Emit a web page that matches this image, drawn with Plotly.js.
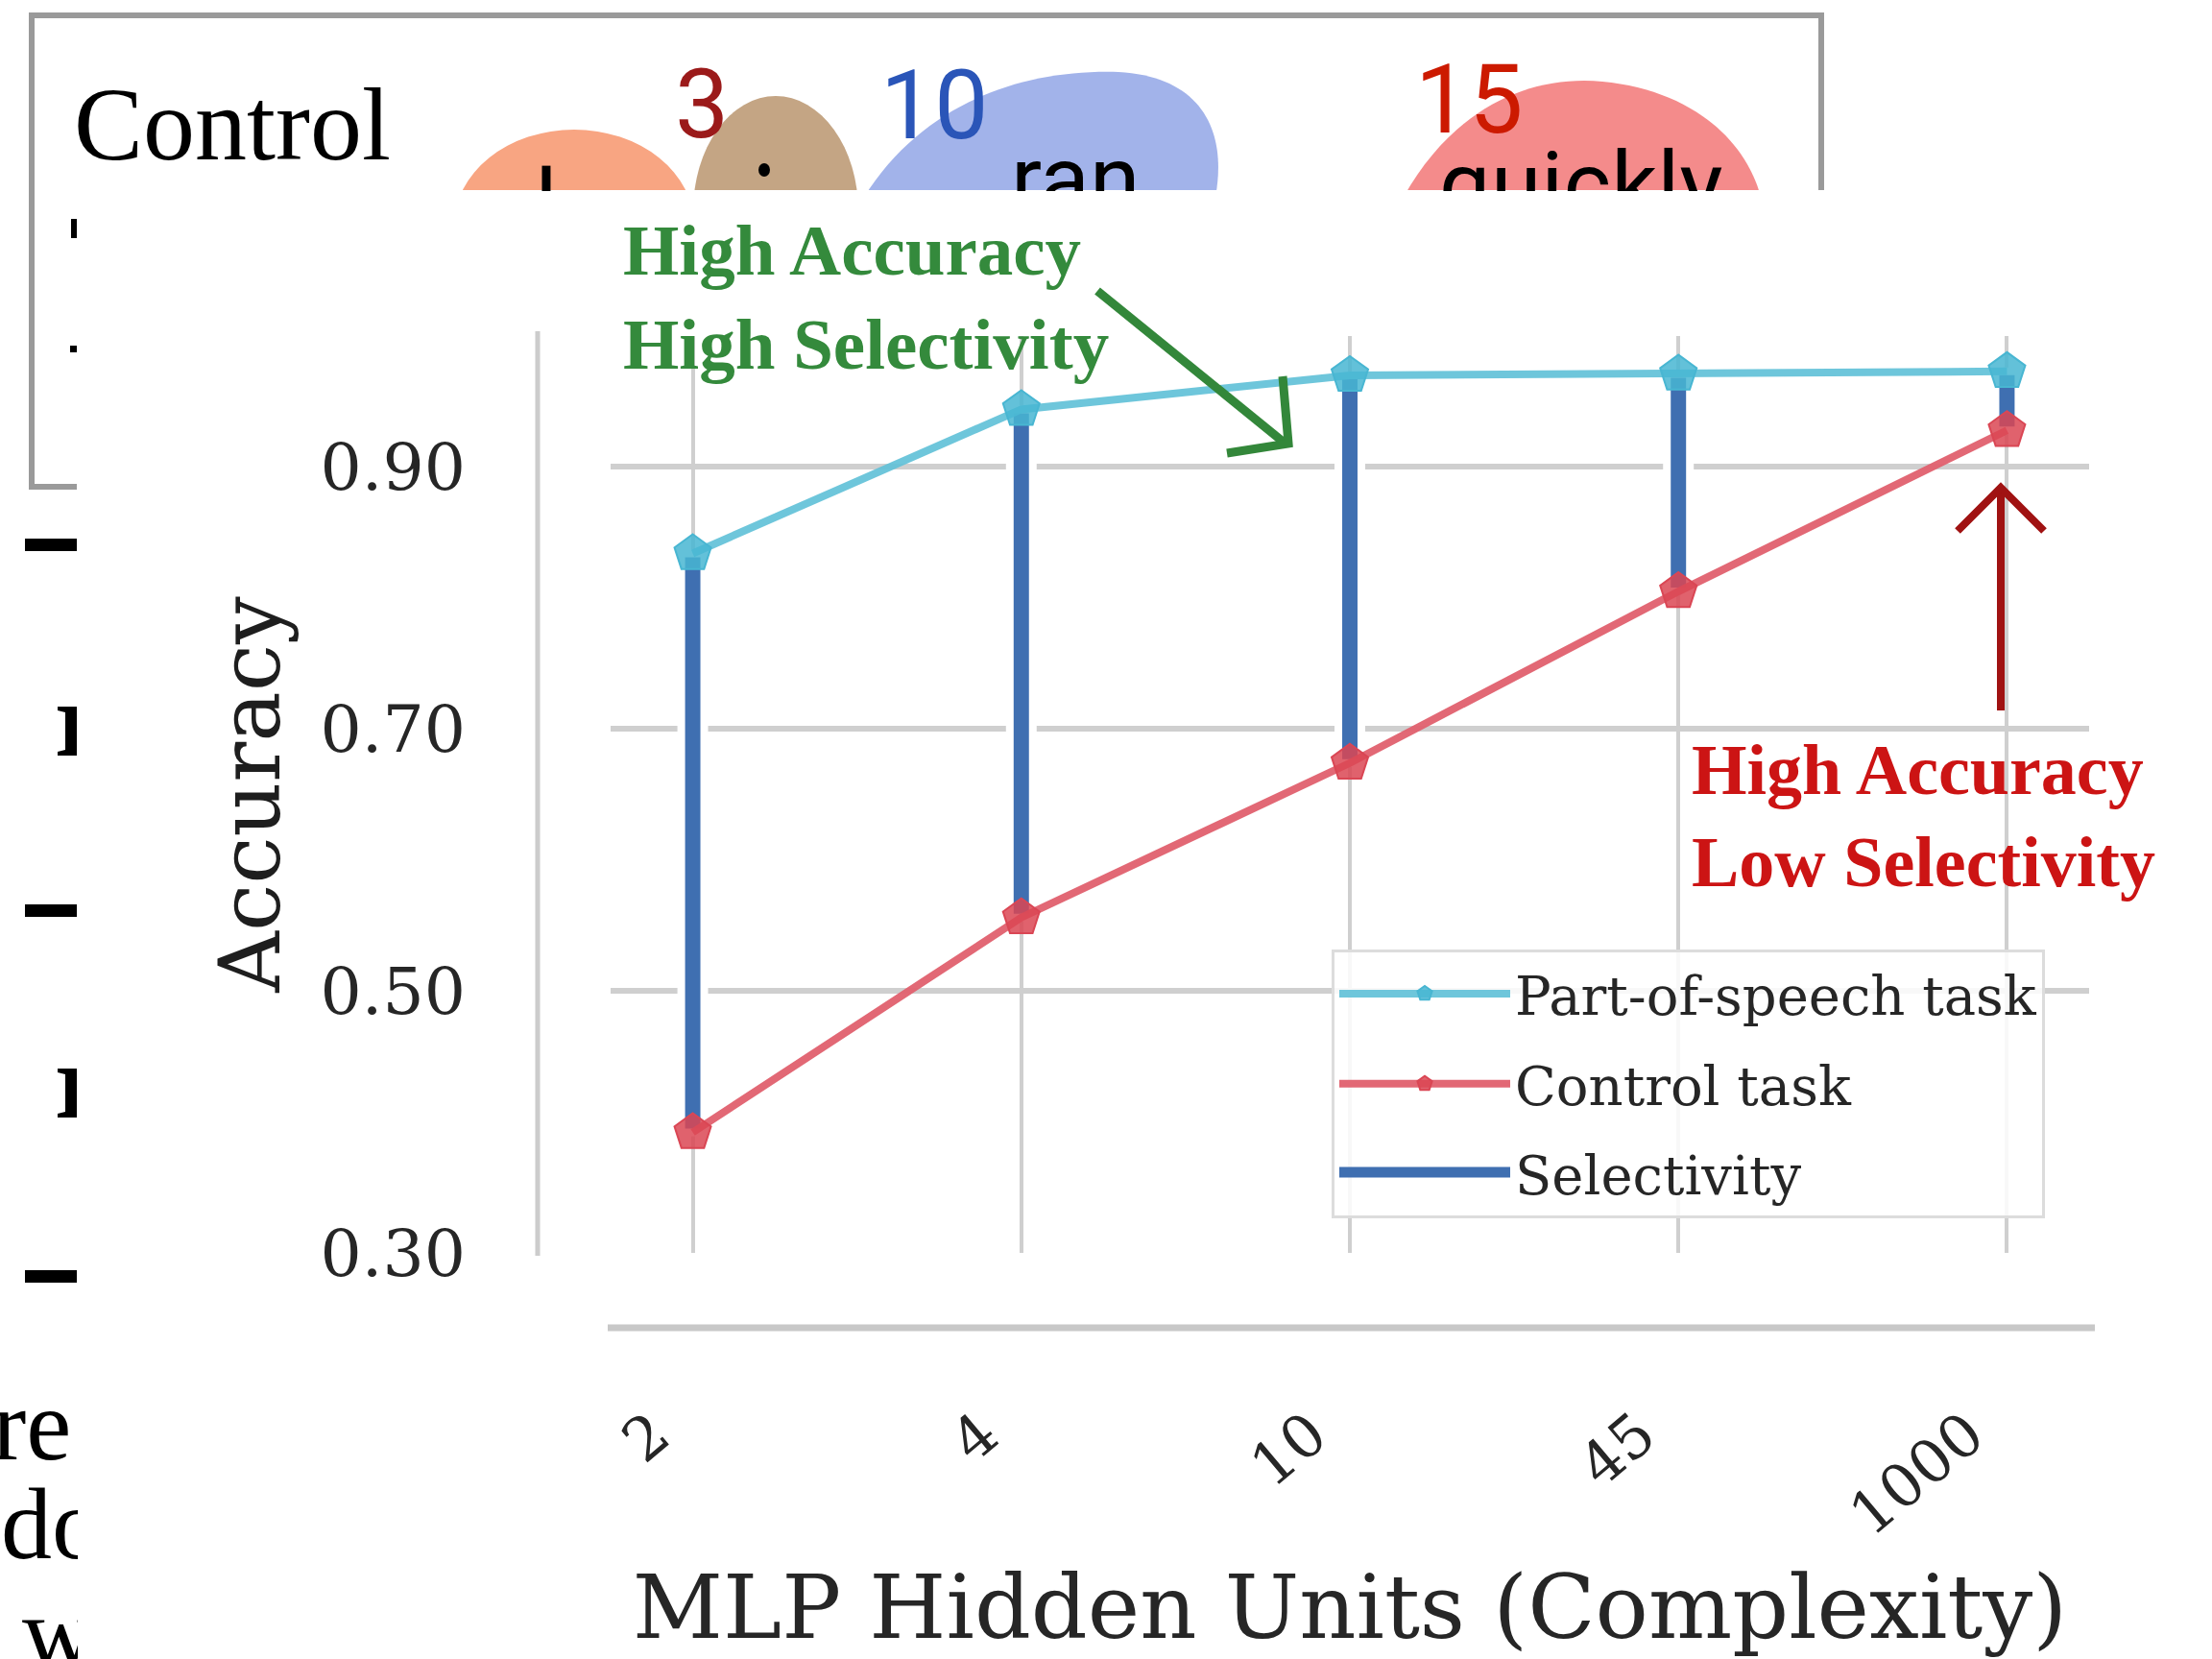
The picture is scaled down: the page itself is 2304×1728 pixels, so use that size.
<!DOCTYPE html>
<html><head><meta charset="utf-8">
<script src="https://cdn.plot.ly/plotly-3.0.1.min.js"></script>
<style>html,body{margin:0;padding:0;background:#fff}</style>
</head><body><div id="chart" style="width:2304px;height:1728px"></div>
<script>
// ---- data ----
const hiddenUnits = ['2', '4', '10', '45', '1000'];
const posAccuracy = [0.834, 0.944, 0.970, 0.971, 0.973];
const controlAccuracy = [0.392, 0.556, 0.674, 0.805, 0.928];
const yTickVals = [0.30, 0.50, 0.70, 0.90];
const yTickText = ['0.30', '0.50', '0.70', '0.90'];
const seriesNames = ['Part-of-speech task', 'Control task', 'Selectivity'];
const selectivity = posAccuracy.map((v, i) => v - controlAccuracy[i]);

// ---- page geometry (pixels) ----
const W = 2304, H = 1728, L = 636, R = 2176, T = 350, B = 1305;
const px = x => (x - L) / (R - L);
const py = y => (B - y) / (B - T);

const serif = 'DejaVu Serif';
const selColor = '#3f6fb1';

const traces = [
  {
    type: 'bar', name: seriesNames[2], x: hiddenUnits, y: selectivity, base: controlAccuracy,
    width: 0.07, marker: {color: selColor, line: {color: '#ffffff', width: 8}},
    showlegend: false, legendgroup: 'c', hoverinfo: 'skip'
  },
  {
    type: 'scatter', mode: 'lines+markers', name: seriesNames[0], x: hiddenUnits, y: posAccuracy,
    line: {color: 'rgba(98,193,216,0.92)', width: 8},
    marker: {symbol: 'pentagon', size: 40, color: 'rgba(72,182,210,0.85)', line: {color: 'rgba(72,182,210,1)', width: 2}},
    legendgroup: 'a', legendrank: 1
  },
  {
    type: 'scatter', mode: 'lines+markers', name: seriesNames[1], x: hiddenUnits, y: controlAccuracy,
    line: {color: 'rgba(224,96,110,0.95)', width: 8},
    marker: {symbol: 'pentagon', size: 40, color: 'rgba(218,70,84,0.85)', line: {color: 'rgba(218,70,84,1)', width: 2}},
    legendgroup: 'b', legendrank: 2
  },
  {
    // legend key for the selectivity bars (no data of its own)
    type: 'scatter', mode: 'lines', name: seriesNames[2], x: [null], y: [null],
    line: {color: selColor, width: 10}, fill: 'toself', fillcolor: selColor,
    legendgroup: 'c', legendrank: 3, hoverinfo: 'skip'
  }
];

function rectP(x0, y0, x1, y1, fill, lw, lc) {
  return {type: 'rect', xref: 'paper', yref: 'paper', x0: px(x0), x1: px(x1), y0: py(y0), y1: py(y1),
    fillcolor: fill, line: {width: lw || 0, color: lc || 'rgba(0,0,0,0)'}, layer: 'below'};
}
function pathP(pts, close, fill, lw, lc, layer) {
  let d = pts.map((p, i) => (i ? 'L' : 'M') + px(p[0]) + ',' + py(p[1])).join(' ');
  if (close) d += ' Z';
  return {type: 'path', xref: 'paper', yref: 'paper', path: d,
    fillcolor: fill || 'rgba(0,0,0,0)', line: {width: lw || 0, color: lc || 'rgba(0,0,0,0)'}, layer: layer || 'below'};
}
function curveP(str, fill) {
  const tok = str.trim().split(/\s+/);
  let out = [], i = 0;
  while (i < tok.length) {
    const t = tok[i];
    if (/^[A-Za-z]$/.test(t)) { out.push(t); i++; continue; }
    out.push(px(+tok[i]) + ',' + py(+tok[i + 1])); i += 2;
  }
  return {type: 'path', xref: 'paper', yref: 'paper', path: out.join(' '),
    fillcolor: fill, line: {width: 0}, layer: 'below'};
}
function ellP(cx, cy, rx, ry, fill) {
  return {type: 'circle', xref: 'paper', yref: 'paper', x0: px(cx - rx), x1: px(cx + rx), y0: py(cy + ry), y1: py(cy - ry),
    fillcolor: fill, line: {width: 0}, layer: 'below'};
}

const shapes = [
  // background document fragments
  rectP(33, 16, 1897, 507, 'rgba(0,0,0,0)', 6, '#9a9a9a'),
  ellP(598, 235, 125, 100, '#f8a582'),
  ellP(808, 220, 86, 120, '#c4a584'),
  curveP('M 900 205 C 960 110 1060 72 1165 75 C 1255 80 1278 140 1266 205 Z', '#a2b3ea'),
  curveP('M 1462 205 C 1510 120 1580 84 1650 84 C 1745 86 1815 135 1834 205 Z', '#f48b8b'),
  ellP(796, 177, 6, 7, '#000000'),
  rectP(74, 228, 80, 248, '#000000'),
  rectP(73, 360, 80, 367, '#000000'),
  rectP(26, 561, 80, 574, '#000000'),
  rectP(26, 942, 80, 955, '#000000'),
  rectP(26, 1323, 80, 1336, '#000000'),
  pathP([[60, 736], [80, 736], [80, 787], [60, 787], [60, 783], [68, 781], [68, 742], [60, 740]], true, '#000000'),
  pathP([[60, 1113], [80, 1113], [80, 1164], [60, 1164], [60, 1160], [68, 1158], [68, 1119], [60, 1117]], true, '#000000'),
  // the chart's own white sheet
  rectP(80, 198, 2304, 1728, '#ffffff'),
  // offset y spine and bottom rule
  pathP([[560, 345], [560, 1308]], false, null, 5, '#cccccc'),
  pathP([[633, 1383], [2182, 1383]], false, null, 7, '#c8c8c8'),
  // arrows
  pathP([[1143, 303], [1340, 463]], false, null, 9, '#33873a', 'above'),
  pathP([[1278, 472], [1342, 462], [1336, 392]], false, null, 9, '#33873a', 'above'),
  pathP([[2084, 740], [2084, 510]], false, null, 8, '#a01212', 'above'),
  pathP([[2039, 553], [2084, 508], [2129, 553]], false, null, 8, '#a01212', 'above')
];

function ann(text, x, y, opts) {
  return Object.assign({text: text, xref: 'paper', yref: 'paper', x: px(x), y: py(y), showarrow: false,
    xanchor: 'left', yanchor: 'middle', borderpad: 0}, opts);
}
const sans = 'Roboto';
const annotations = [
  ann('Control', 76, 130, {font: {family: 'Liberation Serif', size: 108, color: '#000'}}),
  ann('3', 702, 108, {font: {family: sans, size: 100, color: '#9b1a1a'}}),
  ann('10', 916, 110, {font: {family: sans, size: 100, color: '#2a55b8'}}),
  ann('15', 1473, 103, {font: {family: sans, size: 100, color: '#cc1a00'}}),
  ann('I', 555, 151, {yanchor: 'top', valign: 'top', height: 47, font: {family: sans, size: 95, color: '#000'}}),
  ann('ran', 1052, 130, {yanchor: 'top', valign: 'top', height: 68, font: {family: sans, size: 95, color: '#000'}}),
  ann('quickly', 1498, 136, {yanchor: 'top', valign: 'top', height: 62, font: {family: sans, size: 95, color: '#000'}}),
  ann('are', 75, 1484, {xanchor: 'right', font: {family: 'Liberation Serif', size: 106, color: '#000'}}),
  ann('do', 0, 1588, {width: 80, align: 'left', font: {family: 'Liberation Serif', size: 106, color: '#000'}}),
  ann('w', 22, 1700, {width: 58, align: 'left', font: {family: 'Liberation Serif', size: 106, color: '#000'}}),
  // chart annotations
  ann('<b>High Accuracy<br>High Selectivity</b>', 648, 309, {align: 'left',
    font: {family: 'Liberation Serif', size: 75, color: '#348a3c'}}),
  ann('<b>High Accuracy<br>Low Selectivity</b>', 1761, 850, {align: 'left',
    font: {family: 'Liberation Serif', size: 74, color: '#cc1414'}})
];

const layout = {
  width: W, height: H,
  margin: {l: L, r: W - R, t: T, b: H - B, pad: 0},
  paper_bgcolor: '#ffffff', plot_bgcolor: 'rgba(0,0,0,0)',
  showlegend: true,
  bargap: 0,
  xaxis: {
    type: 'category', range: [-0.25, 4.25], showgrid: true, gridcolor: '#cfcfcf', gridwidth: 4,
    showline: false, zeroline: false, ticks: '', tickangle: -40,
    tickfont: {family: serif, size: 62, color: '#262626'}, ticklabelstandoff: 140, ticklabelshift: -40,
    title: {text: 'MLP Hidden Units (Complexity)', font: {family: serif, size: 92, color: '#262626'}, standoff: 40},
    automargin: false, fixedrange: true
  },
  yaxis: {
    range: [0.3, 1.0], tickvals: yTickVals, ticktext: yTickText, showgrid: true, gridcolor: '#cfcfcf', gridwidth: 6,
    showline: false, zeroline: false, ticks: '', tickfont: {family: serif, size: 68, color: '#262626'},
    ticklabelstandoff: 150,
    title: {text: 'Accuracy', font: {family: serif, size: 88, color: '#1e1e1e'}, standoff: 12},
    automargin: false, fixedrange: true
  },
  legend: {
    x: px(1387), y: py(989), xanchor: 'left', yanchor: 'top', traceorder: 'grouped',
    bgcolor: 'rgba(255,255,255,0.85)', bordercolor: '#dcdcdc', borderwidth: 3,
    font: {family: serif, size: 56, color: '#262626'}, itemwidth: 178, tracegroupgap: 18
  },
  shapes: shapes,
  annotations: annotations
};

Plotly.newPlot('chart', traces, layout, {displayModeBar: false, staticPlot: true});
</script>
</body></html>
